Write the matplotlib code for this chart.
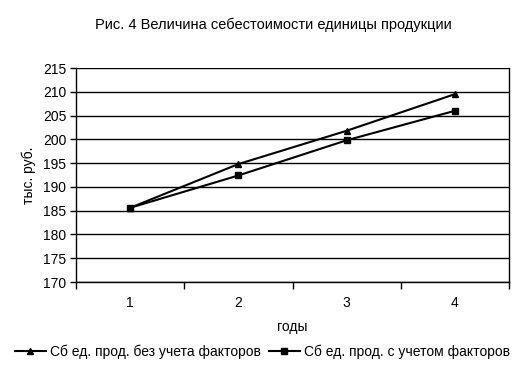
import numpy as np
import matplotlib.pyplot as plt

plt.rcParams['font.family'] = ['Liberation Sans', 'DejaVu Sans']

years = ['1', '2', '3', '4']
cost_without = [185.6, 194.8, 201.8, 209.5]   # без учета факторов
cost_with = [185.6, 192.4, 199.8, 206.0]      # с учетом факторов

fig = plt.figure(figsize=(5.25, 3.74), dpi=100)
ax = fig.add_axes([76 / 525, 1 - 282 / 374, 433 / 525, 214 / 374])

x = np.arange(len(years))
ax.plot(x, cost_without, '-^', color='black', lw=1.5, ms=5,
        label='Сб ед. прод. без учета факторов')
ax.plot(x, cost_with, '-s', color='black', lw=1.5, ms=4.5,
        label='Сб ед. прод. с учетом факторов')

ax.set_xlim(-0.5, len(years) - 0.5)
ax.set_ylim(170, 215)
ax.set_yticks(np.arange(170, 216, 5))
ax.yaxis.grid(True, color='black', lw=1)
ax.set_axisbelow(True)

ax.set_xticks(x)
ax.set_xticklabels(years)
ax.set_xticks(np.arange(-0.5, len(years), 1), minor=True)
ax.tick_params(axis='x', which='major', length=0, pad=10)
ax.tick_params(axis='x', which='minor', length=5, width=1, direction='out')
ax.tick_params(axis='y', length=4, width=1, direction='out', pad=3)
ax.tick_params(labelsize=10)

ax.spines['top'].set_visible(False)
for s in ['left', 'bottom', 'right']:
    ax.spines[s].set_linewidth(1)
    ax.spines[s].set_color('black')

ax.set_xlabel('годы', fontsize=10, labelpad=7)
ax.set_ylabel('тыс. руб.', fontsize=10, labelpad=5)

fig.text(273 / 525, 1 - 25 / 374, 'Рис. 4 Величина себестоимости единицы продукции',
         ha='center', va='center', fontsize=10.5)

fig.legend(loc='center', bbox_to_anchor=(0.5, 1 - 352 / 374), ncol=2,
           frameon=False, fontsize=10, handlelength=2.2, handletextpad=0.3,
           columnspacing=0.6)

fig.savefig('out.png', dpi=100)
